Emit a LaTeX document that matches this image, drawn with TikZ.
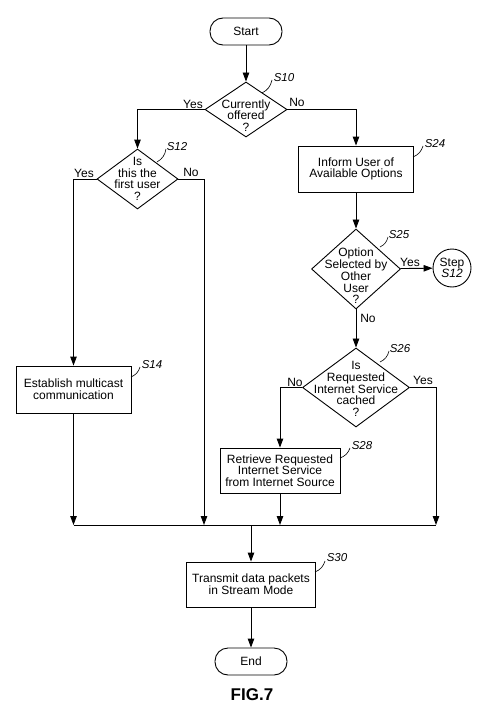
\documentclass[tikz,border=0pt]{standalone}
\usepackage{fontspec}
\setmainfont{Liberation Sans}
\usetikzlibrary{shapes.geometric,arrows.meta}
\begin{document}
\begin{tikzpicture}[x=1pt,y=-1pt,
  every node/.style={font=\fontsize{12}{11.7}\selectfont},
  box/.style={draw, line width=0.9pt, rectangle, align=center, inner sep=0pt},
  term/.style={draw, line width=0.9pt, rounded corners=13pt, minimum width=72pt, minimum height=27pt, inner sep=0pt},
  dia/.style={draw, line width=0.9pt, diamond, inner sep=0pt},
  txt/.style={align=center, inner sep=0pt},
  lab/.style={font=\fontsize{11.5}{12}\selectfont\itshape, inner sep=0pt},
  yn/.style={inner sep=0pt},
  arr/.style={line width=0.9pt, -{Triangle[length=9pt,width=6.5pt]}},
  ln/.style={line width=0.9pt},
  tick/.style={line width=0.6pt},
]
\useasboundingbox (0,0) rectangle (500,725);

% terminals and boxes
\node[term] (start) at (246,31.5) {Start};
\node[dia, minimum width=82pt, minimum height=55pt] (s10) at (246,109.5) {};
\node[txt] (t10) at ([yshift=-6pt]s10.center) {Currently\\offered\\?};

\node[dia, minimum width=81pt, minimum height=60pt] (s12) at (137.5,179) {};
\node[txt] (t12) at (s12.center) {Is\\this the\\first user\\?};

\node[box, minimum width=115pt, minimum height=46pt] (s24) at (356,169) {Inform User of\\Available Options};

\node[dia, minimum width=89pt, minimum height=80pt] (s25) at (356,269) {};
\node[txt] (t25) at ([yshift=-7pt]s25.center) {Option\\Selected by\\Other\\User\\?};

\node[circle, draw, line width=0.9pt, minimum size=38pt, inner sep=0pt, align=center] (step) at (452,268) {Step\\\textit{S12}};

\node[dia, minimum width=107pt, minimum height=79pt] (s26) at (356,387.5) {};
\node[txt] (t26) at ([yshift=-1.5pt]s26.center) {Is\\Requested\\Internet Service\\cached\\?};

\node[box, minimum width=115pt, minimum height=47pt] (s14) at (73.5,389.5) {Establish multicast\\communication};
\node[box, minimum width=120pt, minimum height=45pt] (s28) at (280,470.5) {Retrieve Requested\\Internet Service\\from Internet Source};

\node[box, minimum width=129pt, minimum height=45pt] (s30) at (251,584.5) {Transmit data packets\\in Stream Mode};
\node[term] (stop) at (251,661.5) {End};

\node[font=\fontsize{17}{17}\selectfont\bfseries] (fig) at (252,695) {FIG.7};

% junction points
\coordinate (j1) at (73.5,525);
\coordinate (j2) at (204,525);
\coordinate (j3) at (280,525);
\coordinate (j4) at (436,525);
\coordinate (j0) at (251,525);

% connectors
\draw[arr] (start) -- (s10);
\draw[arr] (s10.west) -| (s12.north);
\draw[arr] (s10.east) -| (s24.north);
\draw[arr] (s12.west) -| (s14.north);
\draw[arr] (s12.east) -| (j2);
\draw[arr] (s14.south) -- (j1);
\draw[arr] (s24) -- (s25);
\draw[arr] (s25) -- (step);
\draw[arr] (s25) -- (s26);
\draw[arr] (s26.west) -| (s28.north);
\draw[arr] (s26.east) -| (j4);
\draw[arr] (s28) -- (j3);
\draw[ln] (j1) -- (j4);
\draw[arr] (j0) -- (s30);
\draw[arr] (s30) -- (stop);

% yes / no labels
\node[yn] (y10) at (193,104) {Yes};
\node[yn] (n10) at (297,102) {No};
\node[yn] (y12) at (84,173) {Yes};
\node[yn] (n12) at (191,172) {No};
\node[yn] (y25) at (410,262) {Yes};
\node[yn] (n25) at (368,318) {No};
\node[yn] (n26) at (295,382) {No};
\node[yn] (y26) at (423,380) {Yes};

% step labels
\node[lab] (l10) at (284,78) {S10};
\node[lab] (l12) at (177,147) {S12};
\node[lab] (l24) at (435,144) {S24};
\node[lab] (l25) at (399,235) {S25};
\node[lab] (l26) at (400,349) {S26};
\node[lab] (l14) at (152,365) {S14};
\node[lab] (l28) at (362,446) {S28};
\node[lab] (l30) at (337,558) {S30};

% leader ticks
\draw[tick] (262,93) to[bend right=25] (272,80);
\draw[tick] (157,162) to[bend right=25] (166,149);
\draw[tick] (413,157) to[bend right=25] (423,146);
\draw[tick] (380,247) to[bend right=25] (388,237);
\draw[tick] (380,362) to[bend right=25] (389,351);
\draw[tick] (131,377) to[bend right=25] (140,367);
\draw[tick] (340,458) to[bend right=25] (350,448);
\draw[tick] (315,572) to[bend right=25] (325,561);
\end{tikzpicture}
\end{document}
